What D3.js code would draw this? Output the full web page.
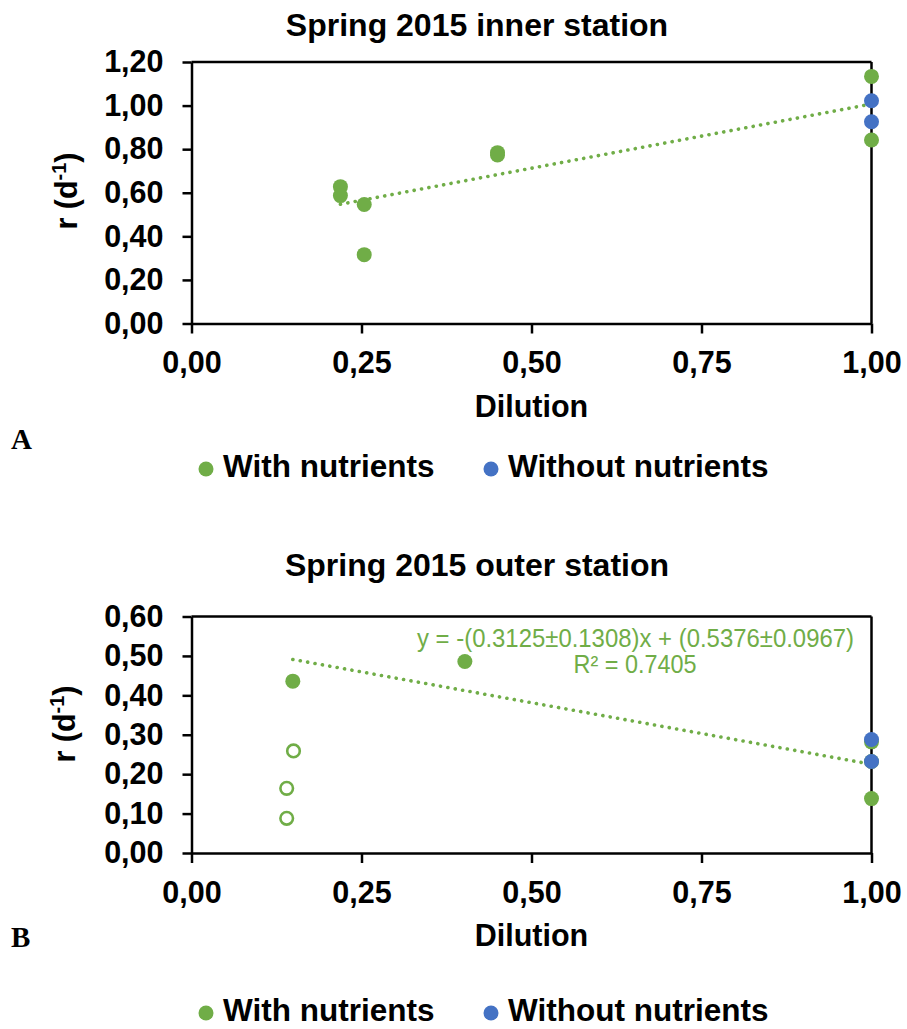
<!DOCTYPE html>
<html>
<head>
<meta charset="utf-8">
<script src="https://cdn.jsdelivr.net/npm/d3@7"></script>
<style>
  body { margin: 0; background: #fff; }
  svg { display: block; font-family: "Liberation Sans", Arial, sans-serif; }
</style>
</head>
<body>
<svg id="chart" width="907" height="1029"></svg>
<script>
// Panel A - inner station
const innerWithX = [0.219, 0.219, 0.254, 0.254, 0.45, 0.45, 1.0, 1.0]
const innerWithY = [0.628, 0.587, 0.546, 0.316, 0.784, 0.773, 1.134, 0.842]
const innerWithoutX = [1.0, 1.0]
const innerWithoutY = [1.022, 0.926]
const innerTrend = { slope: 0.589, intercept: 0.418, from: 0.219, to: 0.99 }
const innerYTicks = [0, 0.2, 0.4, 0.6, 0.8, 1.0, 1.2]

// Panel B - outer station
const outerWithX = [0.149, 0.402, 1.0, 1.0, 1.0]
const outerWithY = [0.436, 0.486, 0.138, 0.282, 0.232]
const outerOpenX = [0.150, 0.140, 0.140]
const outerOpenY = [0.259, 0.164, 0.088]
const outerWithoutX = [1.0, 1.0]
const outerWithoutY = [0.288, 0.232]
const outerTrend = { slope: -0.3125, intercept: 0.5376, from: 0.149, to: 0.99 }
const outerYTicks = [0, 0.1, 0.2, 0.3, 0.4, 0.5, 0.6]

const xTicks = [0, 0.25, 0.5, 0.75, 1.0]
const legendLabels = ["With nutrients", "Without nutrients"]

const green = "#70AD47"
const blue = "#4472C4"

const locale = d3.formatLocale({ decimal: ",", thousands: ".", grouping: [3], currency: ["", ""] })
const fmt = locale.format(".2f")

const svg = d3.select("#chart")

function drawPanel(p) {
  const x = d3.scaleLinear().domain([0, 1]).range([191.5, 871.5])
  const y = d3.scaleLinear().domain([0, p.yMax]).range([p.bottom, p.top])
  const g = svg.append("g")

  // frame
  g.append("line")
    .attr("x1", x(0)).attr("x2", x(1)).attr("y1", y(p.yMax)).attr("y2", y(p.yMax))
    .attr("stroke", "#000").attr("stroke-width", 2.5)
  g.append("line")
    .attr("x1", x(1)).attr("x2", x(1)).attr("y1", y(0)).attr("y2", y(p.yMax))
    .attr("stroke", "#000").attr("stroke-width", 2.5)

  // axes
  const yAxis = g.append("g")
    .attr("transform", `translate(${x(0)},0)`)
    .call(d3.axisLeft(y).tickValues(p.yTicks).tickFormat(fmt).tickSize(9).tickSizeOuter(0).tickPadding(19))
  const xAxis = g.append("g")
    .attr("transform", `translate(0,${y(0)})`)
    .call(d3.axisBottom(x).tickValues(xTicks).tickFormat(fmt).tickSize(10).tickSizeOuter(0).tickPadding(18))

  ;[yAxis, xAxis].forEach(a => {
    a.select(".domain").attr("stroke", "#000").attr("stroke-width", 2.5)
    a.selectAll(".tick line").attr("stroke", "#000").attr("stroke-width", 2.5)
    a.selectAll(".tick text")
      .attr("fill", "#000")
      .attr("font-size", "30.5px")
      .attr("font-weight", "bold")
      .attr("font-family", "Liberation Sans, Arial, sans-serif")
  })

  // trend line
  const t = p.trend
  g.append("line")
    .attr("x1", x(t.from)).attr("y1", y(t.slope * t.from + t.intercept))
    .attr("x2", x(t.to)).attr("y2", y(t.slope * t.to + t.intercept))
    .attr("stroke", green)
    .attr("stroke-width", 3.6)
    .attr("stroke-linecap", "round")
    .attr("stroke-dasharray", "0.1,7.4")

  // points
  const r = 7.5
  if (p.openX) {
    g.selectAll("circle.open")
      .data(d3.zip(p.openX, p.openY))
      .join("circle")
      .attr("class", "open")
      .attr("cx", d => x(d[0]))
      .attr("cy", d => y(d[1]))
      .attr("r", 6.3)
      .attr("fill", "#fff")
      .attr("stroke", green)
      .attr("stroke-width", 2.6)
  }
  g.selectAll("circle.with")
    .data(d3.zip(p.withX, p.withY))
    .join("circle")
    .attr("class", "with")
    .attr("cx", d => x(d[0]))
    .attr("cy", d => y(d[1]))
    .attr("r", r)
    .attr("fill", green)
  g.selectAll("circle.without")
    .data(d3.zip(p.withoutX, p.withoutY))
    .join("circle")
    .attr("class", "without")
    .attr("cx", d => x(d[0]))
    .attr("cy", d => y(d[1]))
    .attr("r", r)
    .attr("fill", blue)

  // title
  g.append("text")
    .attr("x", 477).attr("y", p.titleY)
    .attr("text-anchor", "middle")
    .attr("font-size", "32px").attr("font-weight", "bold")
    .text(p.title)

  // x label
  g.append("text")
    .attr("x", (x(0) + x(1)) / 2).attr("y", y(0) + 93)
    .attr("text-anchor", "middle")
    .attr("font-size", "30.5px").attr("font-weight", "bold")
    .text("Dilution")

  // y label
  const yl = g.append("text")
    .attr("transform", `translate(${p.yLabelX},${p.yLabelY}) rotate(-90)`)
    .attr("text-anchor", "middle")
    .attr("font-size", "30.5px").attr("font-weight", "bold")
  yl.append("tspan").text("r (d")
  yl.append("tspan").attr("dy", -11).attr("font-size", "20px").text("-1")
  yl.append("tspan").attr("dy", 11).text(")")

  // panel letter
  g.append("text")
    .attr("x", 11).attr("y", p.letterY)
    .attr("font-family", "Liberation Serif, Times New Roman, serif")
    .attr("font-size", "29px").attr("font-weight", "bold")
    .text(p.letter)

  // legend
  const lg = g.append("g").attr("transform", `translate(0,${p.legendY})`)
  const items = [{ label: legendLabels[0], color: green, cx: 206 }, { label: legendLabels[1], color: blue, cx: 491 }]
  items.forEach(it => {
    lg.append("circle").attr("cx", it.cx).attr("cy", -8).attr("r", 7.5).attr("fill", it.color)
    lg.append("text")
      .attr("x", it.cx + 17).attr("y", 0)
      .attr("font-size", "31.5px").attr("font-weight", "bold")
      .text(it.label)
  })

  return { x, y, g }
}

drawPanel({
  title: "Spring 2015 inner station", titleY: 36,
  yMax: 1.2, top: 62, bottom: 323.5, yTicks: innerYTicks,
  withX: innerWithX, withY: innerWithY,
  withoutX: innerWithoutX, withoutY: innerWithoutY,
  trend: innerTrend,
  yLabelX: 77, yLabelY: 191,
  letter: "A", letterY: 449,
  legendY: 477
})

const b = drawPanel({
  title: "Spring 2015 outer station", titleY: 576,
  yMax: 0.6, top: 616.5, bottom: 853, yTicks: outerYTicks,
  withX: outerWithX, withY: outerWithY,
  openX: outerOpenX, openY: outerOpenY,
  withoutX: outerWithoutX, withoutY: outerWithoutY,
  trend: outerTrend,
  yLabelX: 75, yLabelY: 724,
  letter: "B", letterY: 947,
  legendY: 1021
})

// trend equation for panel B
b.g.append("text")
  .attr("x", 635.5).attr("y", 647)
  .attr("text-anchor", "middle")
  .attr("font-size", "25px").attr("fill", green)
  .attr("textLength", 437).attr("lengthAdjust", "spacingAndGlyphs")
  .text("y = -(0.3125±0.1308)x + (0.5376±0.0967)")
b.g.append("text")
  .attr("x", 635).attr("y", 673)
  .attr("text-anchor", "middle")
  .attr("font-size", "25px").attr("fill", green)
  .attr("textLength", 123).attr("lengthAdjust", "spacingAndGlyphs")
  .text("R² = 0.7405")
</script>
</body>
</html>
